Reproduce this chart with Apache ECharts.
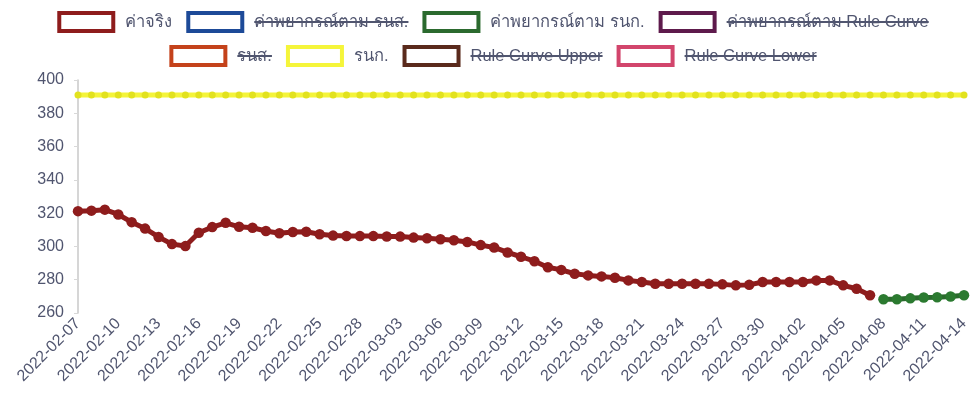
<!DOCTYPE html>
<html><head><meta charset="utf-8">
<script src="https://cdn.jsdelivr.net/npm/echarts@6/dist/echarts.min.js"></script>
<style>html,body{margin:0;padding:0;background:#fff}#c{width:972px;height:406px}</style>
</head><body><div id="c"></div>
<script>
const dates = [
  '2022-02-07','2022-02-08','2022-02-09','2022-02-10','2022-02-11','2022-02-12','2022-02-13','2022-02-14','2022-02-15','2022-02-16',
  '2022-02-17','2022-02-18','2022-02-19','2022-02-20','2022-02-21','2022-02-22','2022-02-23','2022-02-24','2022-02-25','2022-02-26',
  '2022-02-27','2022-02-28','2022-03-01','2022-03-02','2022-03-03','2022-03-04','2022-03-05','2022-03-06','2022-03-07','2022-03-08',
  '2022-03-09','2022-03-10','2022-03-11','2022-03-12','2022-03-13','2022-03-14','2022-03-15','2022-03-16','2022-03-17','2022-03-18',
  '2022-03-19','2022-03-20','2022-03-21','2022-03-22','2022-03-23','2022-03-24','2022-03-25','2022-03-26','2022-03-27','2022-03-28',
  '2022-03-29','2022-03-30','2022-03-31','2022-04-01','2022-04-02','2022-04-03','2022-04-04','2022-04-05','2022-04-06','2022-04-07',
  '2022-04-08','2022-04-09','2022-04-10','2022-04-11','2022-04-12','2022-04-13','2022-04-14'
];
const actualValues = [
  321.2, 321.5, 322.1, 319.2, 314.6, 310.7, 305.7, 301.4, 300.2, 308.2,
  311.6, 314.2, 311.8, 311.2, 309.3, 307.9, 308.7, 308.8, 307.3, 306.5,
  306.3, 306.2, 306.2, 306.0, 305.9, 305.3, 304.9, 304.3, 303.7, 302.7,
  300.8, 299.4, 296.4, 293.8, 291.1, 287.5, 285.9, 283.6, 282.6, 282.0,
  281.2, 279.6, 278.6, 277.6, 277.6, 277.6, 277.6, 277.6, 277.2, 276.6,
  276.9, 278.6, 278.6, 278.6, 278.6, 279.6, 279.6, 276.6, 274.6, 270.7
];
const forecastRnkValues = [
  null, null, null, null, null, null, null, null, null, null,
  null, null, null, null, null, null, null, null, null, null,
  null, null, null, null, null, null, null, null, null, null,
  null, null, null, null, null, null, null, null, null, null,
  null, null, null, null, null, null, null, null, null, null,
  null, null, null, null, null, null, null, null, null, null,
  268.3, 268.3, 268.8, 269.3, 269.5, 269.9, 270.7
];
const rnkValues = [
  391, 391, 391, 391, 391, 391, 391, 391, 391, 391,
  391, 391, 391, 391, 391, 391, 391, 391, 391, 391,
  391, 391, 391, 391, 391, 391, 391, 391, 391, 391,
  391, 391, 391, 391, 391, 391, 391, 391, 391, 391,
  391, 391, 391, 391, 391, 391, 391, 391, 391, 391,
  391, 391, 391, 391, 391, 391, 391, 391, 391, 391,
  391, 391, 391, 391, 391, 391, 391
];
const yMin = 260, yMax = 400, yStep = 20;

const legendRows = [
  [
    {name: 'ค่าจริง', color: '#8e1c1c', hidden: false},
    {name: 'ค่าพยากรณ์ตาม รนส.', color: '#1d4a98', hidden: true},
    {name: 'ค่าพยากรณ์ตาม รนก.', color: '#2b6a2e', hidden: false},
    {name: 'ค่าพยากรณ์ตาม Rule Curve', color: '#5e1a4c', hidden: true}
  ],
  [
    {name: 'รนส.', color: '#c4421b', hidden: true},
    {name: 'รนก.', color: '#f5f53a', hidden: false},
    {name: 'Rule Curve Upper', color: '#5a2a1c', hidden: true},
    {name: 'Rule Curve Lower', color: '#d2456c', hidden: true}
  ]
];

const FONT_FAMILY = '"Liberation Sans", Arial, "DejaVu Sans", sans-serif';
const textColor = '#50556f';

const chart = echarts.init(document.getElementById('c'), null, {renderer: 'canvas'});

const ctx = document.createElement('canvas').getContext('2d');
const legendFont = '16.5px ' + FONT_FAMILY;
ctx.font = legendFont;
const boxW = 58, boxH = 18, gapBT = 10, itemGap = 14;
const rowY = [22, 56];
const centerX = 493;
const graphics = [];
legendRows.forEach((row, r) => {
  const widths = row.map(it => boxW + gapBT + ctx.measureText(it.name).width);
  const total = widths.reduce((a, b) => a + b, 0) + itemGap * (row.length - 1);
  let x = centerX - total / 2;
  const cy = rowY[r];
  row.forEach((it, i) => {
    const tw = widths[i] - boxW - gapBT;
    graphics.push({
      type: 'rect', silent: true,
      shape: {x: x + 2, y: cy - boxH / 2, width: boxW - 4, height: boxH},
      style: {fill: '#ffffff', stroke: it.color, lineWidth: 4}
    });
    graphics.push({
      type: 'text', silent: true,
      style: {text: it.name, x: x + boxW + gapBT, y: cy, font: legendFont,
              fill: textColor, verticalAlign: 'middle', align: 'left'}
    });
    if (it.hidden) {
      graphics.push({
        type: 'line', silent: true,
        shape: {x1: x + boxW + gapBT, y1: cy, x2: x + boxW + gapBT + tw, y2: cy},
        style: {stroke: textColor, lineWidth: 2}
      });
    }
    x += widths[i] + itemGap;
  });
});

chart.setOption({
  animation: false,
  backgroundColor: '#ffffff',
  textStyle: {fontFamily: FONT_FAMILY},
  graphic: graphics,
  grid: {left: 78, right: 8, top: 80, bottom: 93, containLabel: false},
  xAxis: {
    type: 'category',
    data: dates,
    boundaryGap: false,
    axisLine: {show: false},
    axisTick: {show: false},
    splitLine: {show: false},
    axisLabel: {
      interval: 2, rotate: 45, margin: 8,
      color: textColor, fontSize: 16, fontFamily: FONT_FAMILY
    }
  },
  yAxis: {
    type: 'value',
    min: yMin, max: yMax, interval: yStep,
    axisLine: {show: true, lineStyle: {color: '#c8c8c8', width: 1.5}},
    axisTick: {show: true, length: 4, lineStyle: {color: '#d8d8d8'}},
    splitLine: {show: false},
    axisLabel: {color: textColor, fontSize: 16, margin: 14, fontFamily: FONT_FAMILY}
  },
  series: [
    {
      name: 'ค่าจริง', type: 'line', data: actualValues,
      symbol: 'circle', symbolSize: 10.5, showAllSymbol: true,
      lineStyle: {color: '#8e1c1c', width: 5},
      itemStyle: {color: '#8e1c1c'}, z: 3
    },
    {
      name: 'ค่าพยากรณ์ตาม รนก.', type: 'line', data: forecastRnkValues,
      symbol: 'circle', symbolSize: 10.5, showAllSymbol: true,
      lineStyle: {color: '#2b6a2e', width: 5},
      itemStyle: {color: '#2b7a30'}, z: 4
    },
    {
      name: 'รนก.', type: 'line', data: rnkValues,
      symbol: 'circle', symbolSize: 7, showAllSymbol: true,
      lineStyle: {color: '#f4f43a', width: 5},
      itemStyle: {color: '#e2e21e'}, z: 2
    }
  ]
});
</script>
</body></html>
